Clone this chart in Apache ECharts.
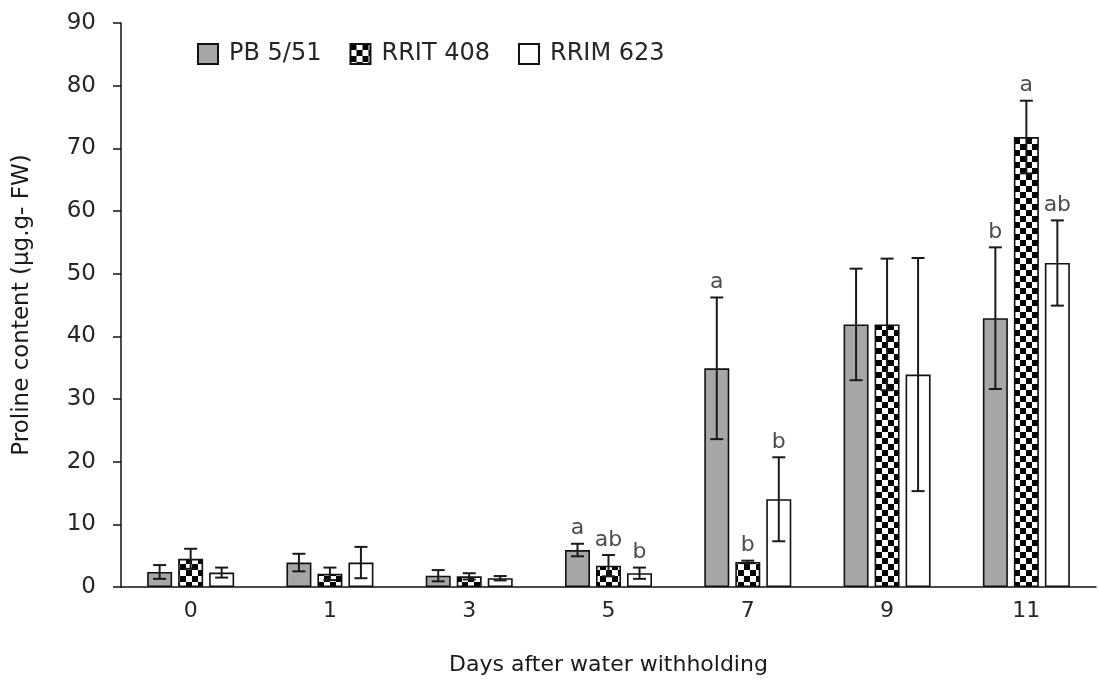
<!DOCTYPE html>
<html>
<head>
<meta charset="utf-8">
<script src="https://cdn.jsdelivr.net/npm/echarts@6/dist/echarts.min.js"></script>
<style>
  html, body { margin: 0; padding: 0; background: #fff; }
  #chart { width: 1099px; height: 684px; }
</style>
</head>
<body>
<div id="chart"></div>
<script>
const days = ['0', '1', '3', '5', '7', '9', '11']
const names = ['PB 5/51', 'RRIT 408', 'RRIM 623']

const pb = [2.4, 3.9, 1.8, 5.9, 34.9, 41.9, 42.9]
const pbErr = [1.1, 1.4, 0.9, 1.0, 11.3, 8.9, 11.3]
const pbLetters = ['', '', '', 'a', 'a', '', 'b']

const rrit = [4.5, 2.1, 1.7, 3.4, 4.0, 41.9, 71.8]
const rritErr = [1.6, 1.0, 0.5, 1.7, 0.2, 10.5, 5.8]
const rritLetters = ['', '', '', 'ab', 'b', '', 'a']

const rrim = [2.3, 3.9, 1.4, 2.2, 14.0, 33.9, 51.7]
const rrimErr = [0.8, 2.5, 0.35, 0.9, 6.7, 18.6, 6.8]
const rrimLetters = ['', '', '', 'b', 'b', '', 'ab']

const font = 'DejaVu Sans'

// checkerboard fill for RRIT 408
const checker = document.createElement('canvas')
checker.width = 12
checker.height = 12
const cctx = checker.getContext('2d')
cctx.fillStyle = '#fff'
cctx.fillRect(0, 0, 12, 12)
cctx.fillStyle = '#000'
cctx.fillRect(0, 0, 6, 6)
cctx.fillRect(6, 6, 6, 6)

const fills = ['#a6a6a6', { image: checker, repeat: 'repeat' }, '#ffffff']
const values = [pb, rrit, rrim]
const errs = [pbErr, rritErr, rrimErr]
const letters = [pbLetters, rritLetters, rrimLetters]

function errorBar(idx) {
  return function (params, api) {
    const i = api.value(0)
    const v = api.value(1)
    const e = api.value(2)
    const off = (idx - 1) * 31
    const mid = api.coord([i, v])
    const top = api.coord([i, v + e])
    const bot = api.coord([i, Math.max(v - e, 0)])
    const x = mid[0] + off
    const half = 6.5
    const line = { stroke: '#1a1a1a', lineWidth: 2 }
    const children = [
      { type: 'line', shape: { x1: x, y1: top[1], x2: x, y2: bot[1] }, style: line },
      { type: 'line', shape: { x1: x - half, y1: top[1], x2: x + half, y2: top[1] }, style: line },
      { type: 'line', shape: { x1: x - half, y1: bot[1], x2: x + half, y2: bot[1] }, style: line }
    ]
    const txt = letters[idx][params.dataIndex]
    if (txt) {
      children.push({
        type: 'text',
        style: {
          text: txt, x: x, y: top[1] - 4,
          align: 'center', verticalAlign: 'bottom',
          fontSize: 22, fontFamily: font, fill: '#4d4d4d'
        }
      })
    }
    return { type: 'group', children: children }
  }
}

const series = []
names.forEach((n, k) => {
  series.push({
    name: n,
    type: 'bar',
    barWidth: 25,
    barGap: '24%',
    data: values[k],
    itemStyle: { color: fills[k], borderColor: '#111', borderWidth: 1.6 },
    z: 2
  })
})
names.forEach((n, k) => {
  series.push({
    type: 'custom',
    renderItem: errorBar(k),
    data: values[k].map((v, i) => [i, v, errs[k][i]]),
    z: 5
  })
})

const chart = echarts.init(document.getElementById('chart'), null, { renderer: 'canvas' })
chart.setOption({
  animation: false,
  textStyle: { fontFamily: font },
  grid: { left: 121, right: 3, top: 23, bottom: 97 },
  legend: {
    data: names,
    left: 197,
    top: 42,
    padding: 0,
    icon: 'rect',
    itemWidth: 20,
    itemHeight: 20,
    itemGap: 28,
    textStyle: { fontSize: 24, fontFamily: font, color: '#262626', padding: [0, 0, 0, 6] }
  },
  xAxis: {
    type: 'category',
    data: days,
    name: 'Days after water withholding',
    nameLocation: 'middle',
    nameGap: 67,
    nameTextStyle: { fontSize: 22, color: '#1a1a1a', fontFamily: font },
    axisLine: { lineStyle: { color: '#111', width: 1.5 } },
    axisTick: { length: 10, lineStyle: { color: '#111', width: 1.5 } },
    axisLabel: { fontSize: 22, color: '#262626', margin: 13, fontFamily: font }
  },
  yAxis: {
    type: 'value',
    min: 0,
    max: 90,
    interval: 10,
    name: 'Proline content (µg.g- FW)',
    nameLocation: 'middle',
    nameGap: 87,
    nameRotate: 90,
    nameTextStyle: { fontSize: 23, color: '#1a1a1a', fontFamily: font },
    splitLine: { show: false },
    axisLine: { show: true, lineStyle: { color: '#111', width: 1.5 } },
    axisTick: { show: true, length: 8, lineStyle: { color: '#111', width: 1.5 } },
    axisLabel: { fontSize: 23, color: '#262626', margin: 25, fontFamily: font }
  },
  series: series
})
</script>
</body>
</html>
